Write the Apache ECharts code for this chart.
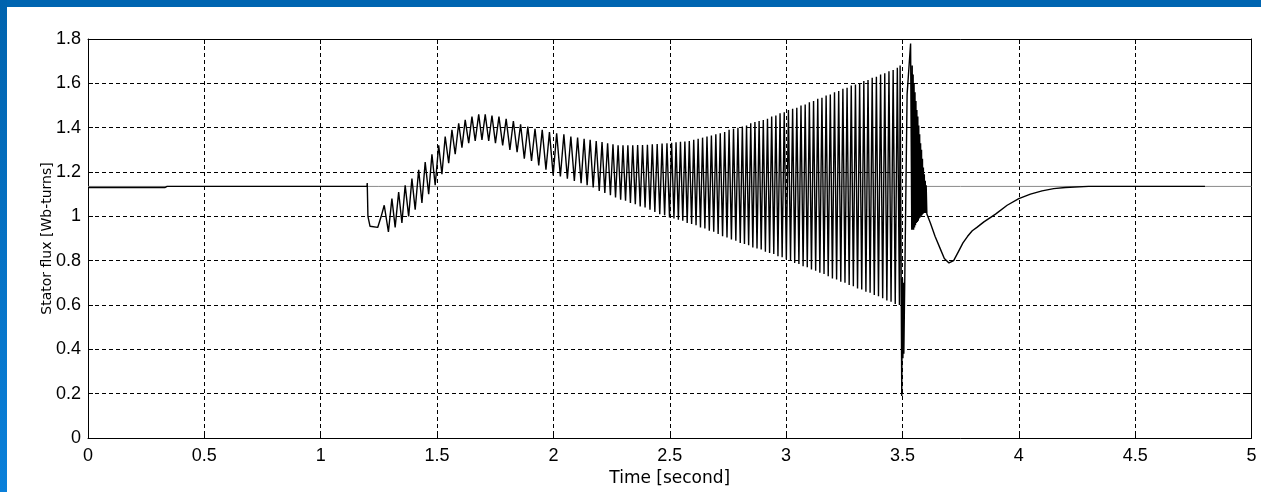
<!DOCTYPE html>
<html>
<head>
<meta charset="utf-8">
<title>Stator flux</title>
<script src="https://cdn.jsdelivr.net/npm/echarts@6/dist/echarts.min.js"></script>
<style>
  html, body { margin: 0; padding: 0; background: #fff; }
  #wrap { position: relative; width: 1261px; height: 492px; overflow: hidden; }
  #chart { position: absolute; left: 0; top: 0; width: 1261px; height: 492px; }
  .bar-top { position: absolute; left: 0; top: 0; width: 1261px; height: 7px; background: #0065b1; }
  .bar-left { position: absolute; left: 0; top: 0; width: 7px; height: 492px;
              background: linear-gradient(#0063ae, #0a80da); }
</style>
</head>
<body>
<div id="wrap">
  <div id="chart"></div>
  <div class="bar-top"></div>
  <div class="bar-left"></div>
</div>
<script>
// Axis ticks
const xTicks = [0, 0.5, 1, 1.5, 2, 2.5, 3, 3.5, 4, 4.5, 5];
const yTicks = [0, 0.2, 0.4, 0.6, 0.8, 1, 1.2, 1.4, 1.6, 1.8];

// Nominal flux reference level
const refLine = [[0, 1.135], [5, 1.135]];

// Stator flux, [time s, flux Wb-turns]
const steadyBefore = [[0, 1.13], [0.33, 1.13], [0.34, 1.135], [1.199, 1.135]];
const faultDip = [[1.2, 1.15], [1.203, 1.0], [1.212, 0.955], [1.245, 0.95], [1.26, 1.0], [1.273, 1.05]];
const swingOsc = [
  [1.291, 0.93], [1.306, 1.08], [1.320, 0.95], [1.335, 1.11], [1.349, 0.97], [1.363, 1.14], [1.378, 1.00],
  [1.392, 1.17], [1.406, 1.03], [1.421, 1.21], [1.435, 1.06], [1.449, 1.245], [1.464, 1.10], [1.478, 1.28],
  [1.492, 1.14], [1.507, 1.32], [1.521, 1.19], [1.535, 1.36], [1.550, 1.24], [1.564, 1.39], [1.578, 1.28],
  [1.593, 1.42], [1.607, 1.31], [1.621, 1.435], [1.636, 1.33], [1.650, 1.45], [1.664, 1.34], [1.679, 1.46],
  [1.693, 1.345], [1.707, 1.46], [1.722, 1.34], [1.736, 1.455], [1.751, 1.33],
  [1.766, 1.45], [1.782, 1.32], [1.797, 1.44], [1.813, 1.30], [1.828, 1.43], [1.844, 1.29], [1.859, 1.415],
  [1.875, 1.26], [1.890, 1.405], [1.906, 1.25], [1.921, 1.395], [1.937, 1.23], [1.952, 1.39], [1.968, 1.21],
  [1.983, 1.38], [1.999, 1.185], [2.014, 1.375], [2.030, 1.18], [2.045, 1.37], [2.060, 1.17], [2.075, 1.36],
  [2.090, 1.16], [2.104, 1.355], [2.119, 1.15],
  [2.132, 1.35], [2.145, 1.14], [2.158, 1.345], [2.171, 1.13], [2.184, 1.34], [2.197, 1.115], [2.209, 1.335],
  [2.221, 1.105], [2.233, 1.33], [2.245, 1.095], [2.256, 1.325], [2.267, 1.085], [2.278, 1.32], [2.289, 1.075]
];
const growingOsc = [
  [2.299, 1.32], [2.310, 1.07], [2.320, 1.32], [2.331, 1.06], [2.341, 1.32], [2.352, 1.055], [2.362, 1.322],
  [2.373, 1.045], [2.383, 1.322], [2.394, 1.04], [2.404, 1.323], [2.415, 1.03], [2.425, 1.325], [2.436, 1.02],
  [2.446, 1.326], [2.457, 1.01], [2.467, 1.328], [2.478, 1.005], [2.488, 1.33], [2.499, 0.995],
  [2.508, 1.332], [2.518, 0.99], [2.527, 1.334], [2.537, 0.985], [2.546, 1.336], [2.556, 0.98], [2.565, 1.338],
  [2.575, 0.97], [2.584, 1.34], [2.594, 0.965], [2.603, 1.345], [2.613, 0.96], [2.622, 1.35], [2.632, 0.95],
  [2.641, 1.355], [2.651, 0.945], [2.660, 1.36], [2.670, 0.935], [2.679, 1.365], [2.689, 0.93], [2.698, 1.37],
  [2.708, 0.92], [2.717, 1.375], [2.727, 0.91], [2.736, 1.38], [2.746, 0.905], [2.755, 1.39], [2.765, 0.895],
  [2.774, 1.395], [2.784, 0.89], [2.793, 1.40], [2.803, 0.88],
  [2.812, 1.405], [2.821, 0.875], [2.830, 1.41], [2.839, 0.87], [2.848, 1.42], [2.857, 0.86], [2.866, 1.425],
  [2.875, 0.855], [2.884, 1.43], [2.893, 0.85], [2.902, 1.435], [2.911, 0.84], [2.920, 1.44], [2.929, 0.835],
  [2.938, 1.45], [2.947, 0.83], [2.956, 1.455], [2.965, 0.82], [2.974, 1.465], [2.983, 0.815], [2.992, 1.47],
  [3.001, 0.805], [3.010, 1.48], [3.019, 0.80], [3.028, 1.485], [3.037, 0.79], [3.046, 1.49], [3.055, 0.785],
  [3.064, 1.50], [3.073, 0.775], [3.082, 1.505], [3.091, 0.77], [3.100, 1.515], [3.109, 0.76], [3.118, 1.52],
  [3.127, 0.755], [3.136, 1.53], [3.145, 0.745], [3.154, 1.535], [3.163, 0.74], [3.172, 1.545], [3.181, 0.73],
  [3.190, 1.55], [3.199, 0.72], [3.208, 1.56], [3.217, 0.715], [3.226, 1.565], [3.235, 0.705], [3.244, 1.575],
  [3.253, 0.70], [3.262, 1.58], [3.271, 0.69], [3.280, 1.59], [3.289, 0.685], [3.298, 1.595], [3.307, 0.675],
  [3.316, 1.60], [3.325, 0.67], [3.334, 1.61], [3.343, 0.66], [3.352, 1.615], [3.361, 0.655], [3.370, 1.625],
  [3.379, 0.645], [3.388, 1.63], [3.397, 0.64], [3.406, 1.64], [3.415, 0.63], [3.424, 1.645], [3.433, 0.62],
  [3.442, 1.655], [3.451, 0.615], [3.460, 1.66], [3.469, 0.605], [3.478, 1.67], [3.487, 0.60]
];
const clearingTransient = [
  [3.490, 1.68], [3.497, 0.19], [3.500, 0.72], [3.502, 0.36], [3.504, 0.70], [3.506, 0.38],
  [3.520, 1.55], [3.535, 1.78], [3.540, 0.94], [3.542, 1.68], [3.544, 0.94], [3.546, 1.64], [3.548, 0.94],
  [3.550, 1.60], [3.552, 0.95], [3.554, 1.56], [3.556, 0.96], [3.558, 1.52], [3.560, 0.97], [3.562, 1.48],
  [3.564, 0.975], [3.566, 1.45], [3.568, 0.98], [3.570, 1.41], [3.572, 0.99], [3.574, 1.37], [3.576, 0.995],
  [3.578, 1.33], [3.580, 1.0], [3.582, 1.30], [3.584, 1.005], [3.586, 1.26], [3.588, 1.01], [3.590, 1.22],
  [3.592, 1.015], [3.594, 1.19], [3.596, 1.015], [3.598, 1.16], [3.600, 1.015], [3.602, 1.14], [3.605, 1.01]
];
const recovery = [
  [3.62, 0.97], [3.64, 0.91], [3.66, 0.86], [3.68, 0.81], [3.70, 0.79], [3.72, 0.80], [3.74, 0.84],
  [3.76, 0.88], [3.78, 0.91], [3.80, 0.935], [3.82, 0.95], [3.85, 0.975], [3.90, 1.01], [3.95, 1.05],
  [4.00, 1.08], [4.05, 1.10], [4.10, 1.115], [4.15, 1.125], [4.20, 1.13], [4.30, 1.135], [4.80, 1.135]
];

const fluxData = [].concat(steadyBefore, faultDip, swingOsc, growingOsc, clearingTransient, recovery);

const labelFont = { fontFamily: 'Liberation Sans, Arial, sans-serif', fontSize: 18, color: '#000' };
const gridDash = { color: '#000', width: 1, type: [4, 3] };
const boxLine = { show: true, onZero: false, lineStyle: { color: '#000', width: 1 } };
const innerTick = { show: true, inside: true, length: 5, lineStyle: { color: '#000', width: 1 } };

const chart = echarts.init(document.getElementById('chart'), null, { renderer: 'canvas' });
chart.setOption({
  animation: false,
  backgroundColor: '#fff',
  grid: { left: 88, top: 39, right: 9.5, bottom: 54, containLabel: false, outerBoundsMode: 'none' },
  xAxis: [
    {
      type: 'value', min: xTicks[0], max: xTicks[xTicks.length - 1], interval: 0.5,
      name: 'Time [second]', nameLocation: 'middle', nameGap: 32, nameMoveOverlap: false,
      nameTextStyle: { fontFamily: 'DejaVu Sans, sans-serif', fontSize: 17, color: '#000' },
      axisLine: boxLine, axisTick: innerTick,
      axisLabel: Object.assign({ margin: 9 }, labelFont),
      splitLine: { show: true, lineStyle: gridDash }
    },
    {
      type: 'value', position: 'top', min: xTicks[0], max: xTicks[xTicks.length - 1], interval: 0.5,
      axisLine: boxLine, axisTick: innerTick, axisLabel: { show: false }, splitLine: { show: false }
    }
  ],
  yAxis: [
    {
      type: 'value', min: yTicks[0], max: yTicks[yTicks.length - 1], interval: 0.2,
      name: 'Stator flux [Wb-turns]', nameLocation: 'middle', nameGap: 34, nameRotate: 90,
      nameMoveOverlap: false,
      nameTextStyle: { fontFamily: 'DejaVu Sans, sans-serif', fontSize: 14, color: '#000' },
      axisLine: boxLine, axisTick: innerTick,
      axisLabel: Object.assign({ margin: 7 }, labelFont),
      splitLine: { show: true, lineStyle: gridDash }
    },
    {
      type: 'value', position: 'right', min: yTicks[0], max: yTicks[yTicks.length - 1], interval: 0.2,
      axisLine: boxLine, axisTick: innerTick, axisLabel: { show: false }, splitLine: { show: false }
    }
  ],
  series: [
    {
      name: 'reference', type: 'line', xAxisIndex: 0, yAxisIndex: 0, data: refLine,
      showSymbol: false, silent: true, z: 2,
      lineStyle: { color: '#8a8a8a', width: 1 }
    },
    {
      name: 'flux', type: 'line', xAxisIndex: 0, yAxisIndex: 0, data: fluxData,
      showSymbol: false, sampling: 'none', silent: true, z: 3,
      lineStyle: { color: '#000', width: 1.4 }
    }
  ]
});
</script>
</body>
</html>
